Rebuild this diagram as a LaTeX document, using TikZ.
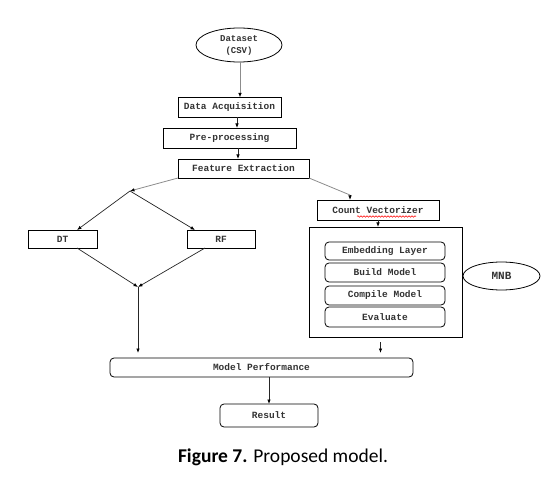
\documentclass[tikz,border=0pt]{standalone}
\usepackage{fontspec}
\setmainfont{Liberation Mono}
\newfontfamily\capfont{Carlito}
\usetikzlibrary{arrows.meta,shapes.geometric,decorations.pathmorphing,calc}
\begin{document}
\begin{tikzpicture}[x=1pt,y=-1pt,
  box/.style={draw=black,line width=0.8pt,inner sep=0pt,outer sep=0pt,text=black!80,
    font=\fontsize{9.5}{11}\selectfont\bfseries},
  rbox/.style={box,rounded corners=4pt},
  oval/.style={box,ellipse,align=center,font=\fontsize{9}{12}\selectfont\bfseries},
  tip/.style={-{Latex[length=4.5pt,width=3.5pt,color=black]}},
  arr/.style={tip,line width=0.7pt,draw=black!85},
  garr/.style={tip,line width=0.8pt,draw=black!45},
  gline/.style={line width=0.8pt,draw=black!45}]
\useasboundingbox (0,0) rectangle (548,478);

\node[oval,minimum width=86pt,minimum height=34pt] (ds) at (239,45) {Dataset\\(CSV)};
\node[box,minimum width=103pt,minimum height=20pt] (da) at (229.5,107.5) {Data Acquisition};
\node[box,minimum width=133pt,minimum height=20pt] (pp) at (229.5,138) {Pre-processing};
\node[box,minimum width=131pt,minimum height=19pt] (fe) at (243.5,168.5) {Feature Extraction};

\coordinate (split) at (130,191);
\coordinate (merge) at (138,287);
\node[box,minimum width=69pt,minimum height=18pt] (dt) at (62.5,239) {DT};
\node[box,minimum width=68pt,minimum height=18pt] (rf) at (221,239) {RF};

\node[box,minimum width=122pt,minimum height=20pt] (cv) at (378,210) {Count Vectorizer};
\node[box,minimum width=153pt,minimum height=110pt] (big) at (385.5,282) {};
\node[rbox,minimum width=120pt,minimum height=18pt] (el) at (385,251) {Embedding Layer};
\node[rbox,minimum width=120pt,minimum height=19pt] (bm) at (385,272.5) {Build Model};
\node[rbox,minimum width=120pt,minimum height=19pt] (cm) at (385,295.5) {Compile Model};
\node[rbox,minimum width=120pt,minimum height=20pt] (ev) at (385,317) {Evaluate};
\node[oval,minimum width=77pt,minimum height=28pt,font=\fontsize{11}{12}\selectfont\bfseries] (mnb) at (501.5,276) {MNB};

\node[rbox,minimum width=303pt,minimum height=19pt] (mp) at (261.5,367.5) {Model Performance};
\node[rbox,minimum width=98pt,minimum height=23pt] (res) at (269,415.5) {Result};

\node[font=\capfont\fontsize{19.5}{22}\selectfont] (cap) at (283,457) {\textbf{Figure 7.} Proposed model.};

% spell-check squiggle
\draw[red,line width=0.5pt,decorate,decoration={snake,amplitude=0.8pt,segment length=3pt}]
  ([xshift=-21pt,yshift=3.5pt]cv.south) -- ([xshift=38pt,yshift=3.5pt]cv.south);

% connectors
\draw[garr] ([xshift=1pt]ds.south) -- ([xshift=1pt]ds.south |- da.north);
\draw[arr] ([xshift=7.5pt]da.south) -- ([xshift=7.5pt]da.south |- pp.north);
\draw[arr] ([xshift=8.5pt]pp.south) -- ([xshift=8.5pt]pp.south |- fe.north);
\draw[garr] (fe.south west) -- (split);
\draw[arr] (split) -- ([xshift=14.5pt]dt.north);
\draw[arr] (split) -- ([xshift=-26pt]rf.north);
\draw[arr] ([xshift=14.5pt]dt.south) -- (merge);
\draw[arr] ([xshift=-16pt]rf.south) -- (merge);
\draw[arr] (merge) -- ([yshift=5pt]merge |- mp.north);
\draw[gline] (fe.south east) -- (350,195);
\draw[arr] (350,195) -- ([xshift=-28pt]cv.north);
\draw[arr] (cv.south) -- (cv.south |- big.north);
\draw[arr] ([xshift=-5pt,yshift=-5pt]big.south) -- ([xshift=-5pt,yshift=5pt]big.south |- mp.north);
\draw[arr] (mp.south -| res.north) -- (res.north);
\end{tikzpicture}
\end{document}
